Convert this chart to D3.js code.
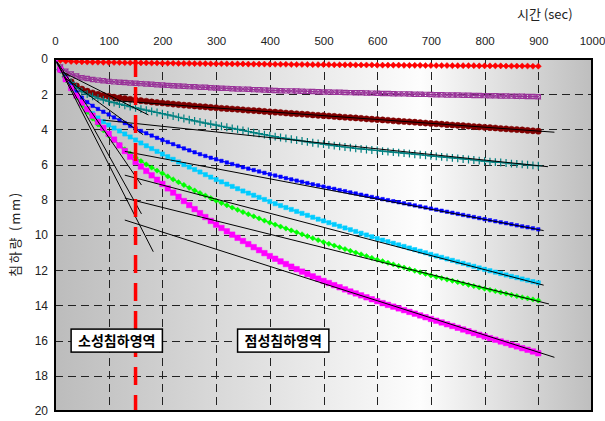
<!DOCTYPE html>
<html><head><meta charset="utf-8">
<script src="https://cdn.jsdelivr.net/npm/d3@7"></script>
<style>
html,body{margin:0;padding:0;background:#fff;}
svg{display:block;font-family:"Liberation Sans",Arial,sans-serif;}
</style></head><body>
<svg id="chart" width="605" height="421"></svg>
<script>
// Axis ticks and grid positions
const xTicks = [0,100,200,300,400,500,600,700,800,900,1000];
const yTicks = [0,2,4,6,8,10,12,14,16,18,20];
const xGrid = [100,200,300,400,500,600,700,800,900];
const yGrid = [2,4,6,8,10,12,14,16,18];
const sampleStep = 10;          // seconds between readings
const boundaryTime = 150;       // plastic / viscous boundary (sec)

// Settlement readings (mm), one value every 10 s from 0 to 900 s
const seriesRed = [0,0.08,0.12,0.14,0.15,0.16,0.17,0.18,0.18,0.19,0.19,
 0.20,0.20,0.21,0.21,0.22,0.22,0.22,0.23,0.23,0.24,
 0.24,0.24,0.25,0.25,0.25,0.26,0.26,0.26,0.27,0.27,
 0.27,0.27,0.28,0.28,0.28,0.29,0.29,0.29,0.29,0.30,
 0.30,0.30,0.30,0.31,0.31,0.31,0.31,0.32,0.32,0.32,
 0.32,0.33,0.33,0.33,0.33,0.34,0.34,0.34,0.34,0.35,
 0.35,0.35,0.35,0.35,0.36,0.36,0.36,0.36,0.37,0.37,
 0.37,0.37,0.37,0.38,0.38,0.38,0.38,0.38,0.39,0.39,
 0.39,0.39,0.39,0.40,0.40,0.40,0.40,0.40,0.41,0.41];
const seriesPurple = [0,0.45,0.70,0.85,0.97,1.06,1.11,1.16,1.20,1.24,1.27,
 1.30,1.32,1.34,1.36,1.38,1.40,1.42,1.44,1.46,1.48,
 1.50,1.52,1.53,1.55,1.57,1.58,1.60,1.61,1.63,1.65,
 1.66,1.67,1.69,1.70,1.71,1.72,1.74,1.75,1.76,1.78,
 1.79,1.80,1.81,1.81,1.82,1.83,1.84,1.85,1.86,1.87,
 1.88,1.89,1.89,1.90,1.91,1.92,1.92,1.93,1.94,1.95,
 1.96,1.96,1.97,1.98,1.98,1.99,2.00,2.00,2.01,2.02,
 2.03,2.03,2.04,2.04,2.05,2.06,2.06,2.07,2.07,2.08,
 2.09,2.09,2.10,2.10,2.11,2.12,2.12,2.13,2.13,2.14];
const seriesMaroon = [0,0.60,1.00,1.30,1.53,1.71,1.83,1.93,2.01,2.07,2.12,
 2.17,2.21,2.25,2.29,2.33,2.37,2.40,2.44,2.47,2.50,
 2.53,2.56,2.59,2.62,2.64,2.67,2.70,2.72,2.75,2.77,
 2.80,2.82,2.84,2.86,2.89,2.91,2.93,2.95,2.98,3.00,
 3.02,3.04,3.07,3.09,3.11,3.13,3.15,3.18,3.20,3.22,
 3.24,3.26,3.29,3.31,3.33,3.35,3.37,3.40,3.42,3.44,
 3.46,3.48,3.51,3.53,3.55,3.57,3.59,3.62,3.64,3.66,
 3.68,3.70,3.73,3.75,3.77,3.79,3.81,3.84,3.86,3.88,
 3.90,3.92,3.95,3.97,3.99,4.01,4.03,4.06,4.08,4.10];
const seriesTeal = [0,0.60,1.00,1.33,1.62,1.85,2.00,2.12,2.23,2.32,2.40,
 2.48,2.56,2.63,2.71,2.78,2.85,2.91,2.98,3.04,3.10,
 3.17,3.24,3.31,3.38,3.45,3.52,3.58,3.64,3.70,3.76,
 3.82,3.88,3.94,4.00,4.06,4.12,4.18,4.24,4.30,4.36,
 4.41,4.46,4.51,4.56,4.61,4.66,4.71,4.76,4.80,4.84,
 4.88,4.92,4.96,5.00,5.04,5.08,5.11,5.14,5.17,5.20,
 5.23,5.26,5.29,5.32,5.35,5.38,5.41,5.44,5.47,5.50,
 5.53,5.56,5.59,5.62,5.65,5.68,5.71,5.74,5.77,5.80,
 5.83,5.86,5.88,5.91,5.94,5.96,5.99,6.01,6.04,6.06];
const seriesBlue = [0,0.60,1.05,1.50,1.88,2.20,2.45,2.66,2.84,3.00,3.15,
 3.32,3.48,3.64,3.80,3.95,4.09,4.22,4.35,4.48,4.60,
 4.72,4.84,4.96,5.08,5.19,5.30,5.41,5.51,5.61,5.70,
 5.79,5.88,5.97,6.06,6.15,6.23,6.31,6.39,6.47,6.55,
 6.62,6.69,6.77,6.84,6.91,6.98,7.05,7.12,7.18,7.25,
 7.32,7.38,7.45,7.51,7.58,7.64,7.71,7.77,7.84,7.90,
 7.96,8.02,8.08,8.14,8.20,8.26,8.32,8.38,8.44,8.50,
 8.56,8.62,8.68,8.74,8.80,8.86,8.92,8.98,9.04,9.10,
 9.16,9.22,9.28,9.33,9.39,9.45,9.51,9.56,9.62,9.68];
const seriesCyan = [0,0.60,1.10,1.60,2.07,2.50,2.82,3.10,3.35,3.56,3.75,
 3.92,4.09,4.26,4.43,4.60,4.77,4.93,5.09,5.25,5.40,
 5.55,5.70,5.85,6.00,6.14,6.28,6.42,6.57,6.71,6.85,
 6.98,7.11,7.24,7.37,7.50,7.62,7.74,7.86,7.98,8.10,
 8.22,8.33,8.44,8.55,8.66,8.77,8.88,8.99,9.10,9.20,
 9.30,9.40,9.50,9.60,9.70,9.80,9.90,10.00,10.10,10.20,
 10.29,10.38,10.47,10.56,10.65,10.74,10.83,10.92,11.01,11.10,
 11.19,11.27,11.36,11.44,11.53,11.61,11.70,11.78,11.87,11.95,
 12.03,12.11,12.19,12.27,12.35,12.42,12.50,12.57,12.65,12.72];
const seriesGreen = [0,0.60,1.20,1.70,2.17,2.60,3.00,3.38,3.72,4.05,4.35,
 4.62,4.88,5.13,5.37,5.60,5.80,5.99,6.17,6.34,6.50,
 6.67,6.84,7.00,7.16,7.32,7.47,7.62,7.76,7.90,8.05,
 8.18,8.31,8.44,8.57,8.70,8.82,8.94,9.06,9.18,9.30,
 9.41,9.52,9.63,9.74,9.85,9.96,10.07,10.18,10.29,10.40,
 10.50,10.60,10.70,10.80,10.90,11.00,11.10,11.20,11.30,11.40,
 11.49,11.58,11.67,11.76,11.85,11.94,12.03,12.12,12.21,12.30,
 12.38,12.45,12.53,12.60,12.68,12.75,12.83,12.90,12.98,13.05,
 13.12,13.19,13.26,13.33,13.40,13.47,13.54,13.60,13.66,13.72];
const seriesMagenta = [0,0.60,1.15,1.65,2.08,2.48,2.86,3.22,3.57,3.92,4.25,
 4.58,4.91,5.23,5.55,5.85,6.11,6.36,6.61,6.86,7.10,
 7.35,7.59,7.83,8.07,8.30,8.53,8.76,8.98,9.20,9.41,
 9.60,9.79,9.98,10.16,10.34,10.52,10.69,10.86,11.03,11.20,
 11.35,11.50,11.65,11.80,11.94,12.08,12.22,12.35,12.48,12.61,
 12.73,12.85,12.97,13.09,13.21,13.32,13.43,13.54,13.65,13.76,
 13.87,13.97,14.07,14.17,14.27,14.37,14.47,14.57,14.67,14.77,
 14.87,14.97,15.07,15.17,15.27,15.37,15.47,15.57,15.67,15.76,
 15.86,15.95,16.05,16.14,16.24,16.33,16.43,16.52,16.62,16.72];

// Fitted straight lines [t0, s0, t1, s1]
const lateFits = [
  [108, 2.36, 930, 4.16],
  [89, 3.47, 918, 6.12],
  [130, 5.25, 910, 9.75],
  [130, 6.60, 910, 12.85],
  [130, 7.90, 920, 13.92],
  [130, 9.15, 930, 16.95]
];
const earlyFits = [
  [15, 0.75, 174, 3.18],
  [19, 1.08, 164, 4.30],
  [3, 0.13, 161, 7.16],
  [3, 0.16, 161, 8.80],
  [3, 0.18, 183, 10.95]
];

const regionLabels = [
  {text: "소성침하영역", t: 115, s: 16.0},
  {text: "점성침하영역", t: 425, s: 16.0}
];

const svg = d3.select("#chart");
const x = d3.scaleLinear([0, 1000], [55, 592]);
const y = d3.scaleLinear([0, 20], [59, 411]);

// background gradient across the plot
const defs = svg.append("defs");
const grad = defs.append("linearGradient").attr("id", "bg").attr("x1", "0%").attr("x2", "100%").attr("y1", "0%").attr("y2", "0%");
grad.append("stop").attr("offset", "0%").attr("stop-color", "#bcbcbc");
grad.append("stop").attr("offset", "68%").attr("stop-color", "#fdfdfd");
grad.append("stop").attr("offset", "100%").attr("stop-color", "#bebebe");
defs.append("clipPath").attr("id", "plotClip").append("rect")
  .attr("x", x(0)).attr("y", y(0)).attr("width", x(1000) - x(0)).attr("height", y(20) - y(0));

svg.append("rect").attr("x", x(0)).attr("y", y(0))
  .attr("width", x(1000) - x(0)).attr("height", y(20) - y(0))
  .attr("fill", "url(#bg)");

// dashed grid
const grid = svg.append("g").attr("stroke", "#222").attr("stroke-width", 1).attr("stroke-dasharray", "8,5");
grid.selectAll("line.v").data(xGrid).join("line").attr("class", "v")
  .attr("x1", d => Math.round(x(d)) + 0.5).attr("x2", d => Math.round(x(d)) + 0.5)
  .attr("y1", y(0)).attr("y2", y(20));
grid.selectAll("line.h").data(yGrid).join("line").attr("class", "h")
  .attr("y1", d => Math.round(y(d)) + 0.5).attr("y2", d => Math.round(y(d)) + 0.5)
  .attr("x1", x(0)).attr("x2", x(1000));

// top axis labels
const xAxis = d3.axisTop(x).tickValues(xTicks).tickSize(0).tickPadding(0).tickFormat(d3.format("d"));
const gx = svg.append("g").attr("transform", "translate(0,45)").call(xAxis);
gx.select(".domain").remove();
gx.selectAll("text").attr("font-size", 11.5).attr("fill", "#222").attr("dy", 0);

// left axis labels
const yAxis = d3.axisLeft(y).tickValues(yTicks).tickSize(0).tickPadding(0).tickFormat(d3.format("d"));
const gy = svg.append("g").attr("transform", "translate(48,0)").call(yAxis);
gy.select(".domain").remove();
gy.selectAll("text").attr("font-size", 12).attr("fill", "#222");

svg.append("text").attr("x", 517).attr("y", 19)
  .attr("font-family", "'Noto Sans CJK KR', sans-serif").attr("font-size", 13).attr("fill", "#222")
  .text("시간 (sec)");
svg.append("text").attr("transform", "translate(20,234) rotate(-90)")
  .attr("text-anchor", "middle")
  .attr("font-family", "'Noto Sans CJK KR', sans-serif").attr("font-size", 13).attr("fill", "#222")
  .attr("letter-spacing", 1.8)
  .text("침하량 (mm)");

// measured series
const seriesDefs = [
  {values: seriesRed, color: "#ff0000", symbol: d3.symbolDiamond2, size: 24, fill: true},
  {values: seriesPurple, color: "#993399", symbol: d3.symbolSquare, size: 18, fill: false, cross: true},
  {values: seriesMaroon, color: "#800000", symbol: d3.symbolCircle, size: 30, fill: true},
  {values: seriesTeal, color: "#008080", symbol: d3.symbolPlus, size: 22, fill: false},
  {values: seriesBlue, color: "#0000ff", symbol: d3.symbolSquare, size: 12, fill: true},
  {values: seriesCyan, color: "#00ccff", symbol: d3.symbolSquare, size: 18, fill: true},
  {values: seriesGreen, color: "#00ff00", symbol: d3.symbolDiamond2, size: 18, fill: true},
  {values: seriesMagenta, color: "#ff00ff", symbol: d3.symbolSquare, size: 30, fill: true}
];

const plot = svg.append("g").attr("clip-path", "url(#plotClip)");
const line = d3.line().x((d, i) => x(i * sampleStep)).y(d => y(d));

seriesDefs.forEach(s => {
  const g = plot.append("g");
  g.append("path").datum(s.values).attr("d", line)
    .attr("fill", "none").attr("stroke", s.color).attr("stroke-width", 1.2);
  const sym = d3.symbol().type(s.symbol).size(s.size);
  g.selectAll("path.m").data(s.values).join("path").attr("class", "m")
    .attr("transform", (d, i) => `translate(${x(i * sampleStep)},${y(d)})`)
    .attr("d", sym)
    .attr("fill", s.fill ? s.color : "none")
    .attr("stroke", s.color)
    .attr("stroke-width", s.fill ? 0.5 : 1.2);
  if (s.cross) {
    const xs = d3.symbol().type(d3.symbolTimes).size(18);
    g.selectAll("path.c").data(s.values).join("path").attr("class", "c")
      .attr("transform", (d, i) => `translate(${x(i * sampleStep)},${y(d)})`)
      .attr("d", xs).attr("fill", "none").attr("stroke", s.color).attr("stroke-width", 1);
  }
});

// fitted lines
const fits = plot.append("g").attr("stroke", "#000").attr("stroke-width", 1);
fits.selectAll("line.late").data(lateFits).join("line").attr("class", "late")
  .attr("x1", d => x(d[0])).attr("y1", d => y(d[1])).attr("x2", d => x(d[2])).attr("y2", d => y(d[3]));
fits.selectAll("line.early").data(earlyFits).join("line").attr("class", "early")
  .attr("x1", d => x(d[0])).attr("y1", d => y(d[1])).attr("x2", d => x(d[2])).attr("y2", d => y(d[3]));

// boundary between regions
svg.append("line").attr("x1", x(boundaryTime)).attr("x2", x(boundaryTime))
  .attr("y1", y(0)).attr("y2", y(20))
  .attr("stroke", "#ff0000").attr("stroke-width", 3.5).attr("stroke-dasharray", "18,10");

// region labels
regionLabels.forEach(r => {
  const g = svg.append("g");
  const t = g.append("text").attr("x", x(r.t)).attr("y", y(r.s)).attr("dy", "0.35em")
    .attr("text-anchor", "middle")
    .attr("font-family", "'Noto Sans CJK KR', sans-serif").attr("font-weight", "bold")
    .attr("font-size", 14).attr("fill", "#000").text(r.text);
  const bb = t.node().getBBox();
  g.insert("rect", "text").attr("x", bb.x - 7).attr("y", y(r.s) - 11.5)
    .attr("width", bb.width + 14).attr("height", 23)
    .attr("fill", "#fff").attr("stroke", "#000").attr("stroke-width", 1.5);
});

// plot frame
svg.append("rect").attr("x", x(0)).attr("y", y(0))
  .attr("width", x(1000) - x(0)).attr("height", y(20) - y(0))
  .attr("fill", "none").attr("stroke", "#000").attr("stroke-width", 2);
</script>
</body></html>
